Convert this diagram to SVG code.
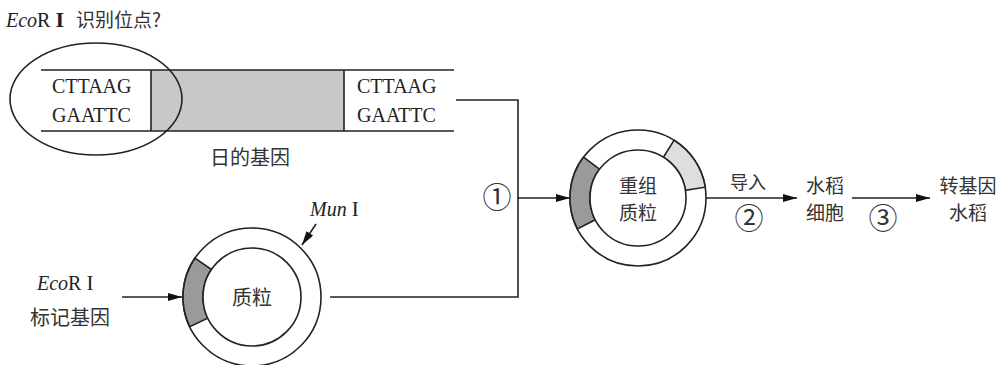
<svg xmlns="http://www.w3.org/2000/svg" width="1001" height="365" viewBox="0 0 1001 365">
<defs>
<style>
.ln{stroke:#222;stroke-width:1.6;fill:none}
.ser{font-family:"Liberation Serif","Noto Sans CJK SC",serif;fill:#222}
.cjk{font-family:"Noto Sans CJK SC","DejaVu Sans",sans-serif;fill:#333}
.num{font-family:"Noto Sans CJK SC","DejaVu Sans",sans-serif;fill:#333;font-size:29px}
.dark{fill:#9a9a9a;stroke:#222;stroke-width:1.6}
.light{fill:#dedede;stroke:#222;stroke-width:1.6}
</style>
<marker id="ah" markerWidth="14" markerHeight="8" refX="14" refY="4" orient="auto" markerUnits="userSpaceOnUse">
<path d="M0,0 L14,4 L0,8 Z" fill="#111"/>
</marker>
</defs>
<rect width="1001" height="365" fill="#fff"/>

<g id="title">
<text x="6" y="27" class="ser" font-size="20"><tspan font-style="italic">Eco</tspan>R <tspan font-size="22" font-weight="bold">I</tspan></text>
<text x="76" y="27" class="cjk" font-size="19">识别位点?</text>
</g>

<g id="target-gene">
<rect x="151" y="70" width="193" height="61" fill="#c8c8c8"/>
<line x1="41" y1="70" x2="454" y2="70" class="ln"/>
<line x1="41" y1="131" x2="454" y2="131" class="ln"/>
<line x1="151" y1="70" x2="151" y2="131" class="ln"/>
<line x1="344" y1="70" x2="344" y2="131" class="ln"/>
<text x="52" y="93" class="ser" font-size="20">CTTAAG</text>
<text x="52" y="122" class="ser" font-size="20">GAATTC</text>
<text x="357" y="93" class="ser" font-size="20">CTTAAG</text>
<text x="357" y="122" class="ser" font-size="20">GAATTC</text>
<ellipse cx="96" cy="99" rx="86" ry="56" class="ln"/>
<text x="250" y="165" class="cjk" font-size="20" text-anchor="middle">日的基因</text>
</g>

<g id="plasmid">
<circle cx="252" cy="297" r="69" fill="#fff" stroke="#222" stroke-width="1.6"/>
<path class="dark" d="M194.9,258.2 A69,69 0 0 0 189.7,326.7 L207.8,318.1 A49,49 0 0 1 211.5,269.5 Z"/>
<circle cx="252" cy="297" r="49" fill="#fff" stroke="#222" stroke-width="1.6"/>
<text x="252" y="305" class="cjk" font-size="20" text-anchor="middle">质粒</text>
<text x="310" y="216" class="ser" font-size="20"><tspan font-style="italic">Mun</tspan> <tspan font-size="21">I</tspan></text>
<text x="37" y="290" class="ser" font-size="20"><tspan font-style="italic">Eco</tspan>R <tspan font-size="21">I</tspan></text>
<text x="30" y="325" class="cjk" font-size="20">标记基因</text>
</g>

<g id="recombinant-plasmid">
<circle cx="638" cy="198" r="68" fill="#fff" stroke="#222" stroke-width="1.6"/>
<path class="dark" d="M583.5,157.1 A68,68 0 0 0 577.4,228.9 L595.2,219.8 A48,48 0 0 1 599.5,169.1 Z"/>
<path class="light" d="M674,140.3 A68,68 0 0 1 705.3,187.2 L685.4,190.4 A48,48 0 0 0 663.4,157.3 Z"/>
<circle cx="638" cy="198" r="48" fill="#fff" stroke="#222" stroke-width="1.6"/>
<text x="638" y="193" class="cjk" font-size="19" text-anchor="middle">重组</text>
<text x="638" y="220" class="cjk" font-size="19" text-anchor="middle">质粒</text>
</g>

<g id="rice-cell">
<text x="825" y="193" class="cjk" font-size="19" text-anchor="middle">水稻</text>
<text x="825" y="220" class="cjk" font-size="19" text-anchor="middle">细胞</text>
</g>

<g id="transgenic-rice">
<text x="968" y="193" class="cjk" font-size="19" text-anchor="middle">转基因</text>
<text x="968" y="220" class="cjk" font-size="19" text-anchor="middle">水稻</text>
</g>

<g id="connectors">
<polyline points="456,100 518,100 518,297 330,297" class="ln" stroke-width="1.3"/>
<line x1="518" y1="198" x2="570" y2="198" class="ln" stroke-width="1.3" marker-end="url(#ah)"/>
<line x1="122" y1="297" x2="182" y2="297" class="ln" stroke-width="1.3" marker-end="url(#ah)"/>
<line x1="316" y1="224" x2="302" y2="245" class="ln" stroke-width="1.3" marker-end="url(#ah)"/>
<line x1="706" y1="198" x2="797" y2="198" class="ln" stroke-width="1.3" marker-end="url(#ah)"/>
<line x1="852" y1="198" x2="930" y2="198" class="ln" stroke-width="1.3" marker-end="url(#ah)"/>
<text x="748" y="189" class="cjk" font-size="18" text-anchor="middle">导入</text>
<text x="497" y="208" class="num" text-anchor="middle">①</text>
<text x="749" y="229" class="num" text-anchor="middle">②</text>
<text x="883" y="229" class="num" text-anchor="middle">③</text>
</g>
</svg>
